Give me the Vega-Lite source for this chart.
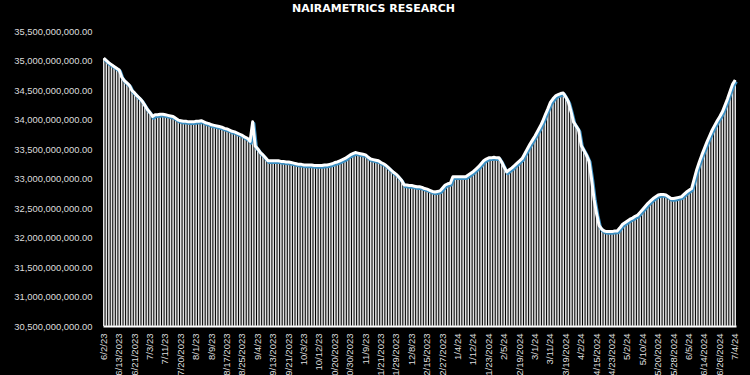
{
"$schema": "https://vega.github.io/schema/vega-lite/v6.json",
"width": 633,
"height": 295,
"autosize": {"type": "none"},
"padding": {"left": 103, "top": 31, "right": 14, "bottom": 49},
"background": "#000000",
"title": {"text": "NAIRAMETRICS RESEARCH", "color": "#ffffff", "font": "DejaVu Sans", "fontSize": 11, "fontWeight": "bold", "anchor": "middle", "offset": 12, "dx": -46},
"config": {"view": {"stroke": null}},
"data": {"values": [
{"d":"6/2/23","v":35040000000},{"d":"6/5/23","v":35000000000},{"d":"6/6/23","v":34960000000},{"d":"6/7/23","v":34930000000},{"d":"6/8/23","v":34900000000},{"d":"6/9/23","v":34870000000},
{"d":"6/13/2023","v":34840000000},{"d":"6/14/23","v":34720000000},{"d":"6/15/23","v":34660000000},{"d":"6/16/23","v":34620000000},{"d":"6/19/23","v":34580000000},{"d":"6/20/23","v":34490000000},
{"d":"6/21/2023","v":34450000000},{"d":"6/22/23","v":34400000000},{"d":"6/23/23","v":34360000000},{"d":"6/26/23","v":34310000000},{"d":"6/27/23","v":34240000000},{"d":"6/30/23","v":34170000000},
{"d":"7/3/23","v":34120000000},{"d":"7/4/23","v":34050000000},{"d":"7/5/23","v":34080000000},{"d":"7/6/23","v":34080000000},{"d":"7/7/23","v":34090000000},{"d":"7/10/23","v":34090000000},
{"d":"7/11/23","v":34080000000},{"d":"7/12/23","v":34070000000},{"d":"7/13/23","v":34060000000},{"d":"7/17/23","v":34050000000},{"d":"7/18/23","v":34020000000},{"d":"7/19/23","v":33990000000},
{"d":"7/20/2023","v":33980000000},{"d":"7/24/23","v":33970000000},{"d":"7/25/23","v":33970000000},{"d":"7/26/23","v":33960000000},{"d":"7/27/23","v":33960000000},{"d":"7/31/23","v":33960000000},
{"d":"8/1/23","v":33970000000},{"d":"8/2/23","v":33970000000},{"d":"8/3/23","v":33980000000},{"d":"8/4/23","v":33960000000},{"d":"8/7/23","v":33940000000},{"d":"8/8/23","v":33930000000},
{"d":"8/9/23","v":33910000000},{"d":"8/10/23","v":33900000000},{"d":"8/11/23","v":33890000000},{"d":"8/14/23","v":33880000000},{"d":"8/15/23","v":33870000000},{"d":"8/16/23","v":33850000000},
{"d":"8/17/2023","v":33840000000},{"d":"8/18/23","v":33820000000},{"d":"8/21/23","v":33800000000},{"d":"8/22/23","v":33790000000},{"d":"8/23/23","v":33770000000},{"d":"8/24/23","v":33750000000},
{"d":"8/25/2023","v":33730000000},{"d":"8/28/23","v":33700000000},{"d":"8/29/23","v":33680000000},{"d":"8/30/23","v":33630000000},{"d":"8/31/23","v":33960000000},{"d":"9/1/23","v":33550000000},
{"d":"9/4/23","v":33500000000},{"d":"9/5/23","v":33440000000},{"d":"9/6/23","v":33400000000},{"d":"9/7/23","v":33350000000},{"d":"9/11/23","v":33300000000},{"d":"9/12/23","v":33300000000},
{"d":"9/13/2023","v":33300000000},{"d":"9/14/23","v":33300000000},{"d":"9/15/23","v":33300000000},{"d":"9/18/23","v":33290000000},{"d":"9/19/23","v":33290000000},{"d":"9/20/23","v":33280000000},
{"d":"9/21/2023","v":33280000000},{"d":"9/22/23","v":33270000000},{"d":"9/25/23","v":33260000000},{"d":"9/26/23","v":33250000000},{"d":"9/28/23","v":33240000000},{"d":"9/29/23","v":33240000000},
{"d":"10/3/23","v":33230000000},{"d":"10/4/23","v":33230000000},{"d":"10/5/23","v":33230000000},{"d":"10/6/23","v":33230000000},{"d":"10/10/23","v":33220000000},{"d":"10/11/23","v":33220000000},
{"d":"10/12/23","v":33220000000},{"d":"10/13/23","v":33220000000},{"d":"10/16/23","v":33230000000},{"d":"10/17/23","v":33230000000},{"d":"10/18/23","v":33240000000},{"d":"10/19/23","v":33250000000},
{"d":"10/20/2023","v":33270000000},{"d":"10/23/23","v":33280000000},{"d":"10/24/23","v":33300000000},{"d":"10/25/23","v":33320000000},{"d":"10/26/23","v":33340000000},{"d":"10/27/23","v":33370000000},
{"d":"10/30/2023","v":33400000000},{"d":"10/31/23","v":33420000000},{"d":"11/1/23","v":33440000000},{"d":"11/2/23","v":33430000000},{"d":"11/6/23","v":33420000000},{"d":"11/7/23","v":33410000000},
{"d":"11/9/23","v":33400000000},{"d":"11/10/23","v":33360000000},{"d":"11/13/23","v":33330000000},{"d":"11/15/23","v":33320000000},{"d":"11/16/23","v":33310000000},{"d":"11/20/23","v":33300000000},
{"d":"11/21/2023","v":33270000000},{"d":"11/22/23","v":33250000000},{"d":"11/23/23","v":33220000000},{"d":"11/24/23","v":33180000000},{"d":"11/27/23","v":33140000000},{"d":"11/28/23","v":33100000000},
{"d":"11/29/2023","v":33070000000},{"d":"11/30/23","v":33020000000},{"d":"12/1/23","v":32970000000},{"d":"12/4/23","v":32890000000},{"d":"12/6/23","v":32890000000},{"d":"12/7/23","v":32880000000},
{"d":"12/8/23","v":32880000000},{"d":"12/9/23","v":32870000000},{"d":"12/11/23","v":32860000000},{"d":"12/12/23","v":32860000000},{"d":"12/13/23","v":32850000000},{"d":"12/14/23","v":32830000000},
{"d":"12/15/2023","v":32820000000},{"d":"12/18/23","v":32800000000},{"d":"12/19/23","v":32780000000},{"d":"12/20/23","v":32770000000},{"d":"12/21/23","v":32780000000},{"d":"12/22/23","v":32790000000},
{"d":"12/27/2023","v":32840000000},{"d":"12/28/23","v":32890000000},{"d":"12/29/23","v":32910000000},{"d":"12/30/23","v":32920000000},{"d":"1/2/24","v":33030000000},{"d":"1/3/24","v":33030000000},
{"d":"1/4/24","v":33030000000},{"d":"1/5/24","v":33030000000},{"d":"1/8/24","v":33030000000},{"d":"1/9/24","v":33030000000},{"d":"1/10/24","v":33060000000},{"d":"1/11/24","v":33090000000},
{"d":"1/12/24","v":33120000000},{"d":"1/15/24","v":33160000000},{"d":"1/16/24","v":33200000000},{"d":"1/17/24","v":33250000000},{"d":"1/18/24","v":33300000000},{"d":"1/22/24","v":33330000000},
{"d":"1/23/2024","v":33350000000},{"d":"1/24/24","v":33350000000},{"d":"1/26/24","v":33360000000},{"d":"1/30/24","v":33350000000},{"d":"2/1/24","v":33350000000},{"d":"2/2/24","v":33280000000},
{"d":"2/5/24","v":33190000000},{"d":"2/7/24","v":33110000000},{"d":"2/9/24","v":33150000000},{"d":"2/12/24","v":33180000000},{"d":"2/14/24","v":33220000000},{"d":"2/16/24","v":33260000000},
{"d":"2/19/2024","v":33300000000},{"d":"2/21/24","v":33340000000},{"d":"2/23/24","v":33420000000},{"d":"2/26/24","v":33500000000},{"d":"2/27/24","v":33580000000},{"d":"2/28/24","v":33650000000},
{"d":"3/1/24","v":33720000000},{"d":"3/4/24","v":33800000000},{"d":"3/5/24","v":33880000000},{"d":"3/6/24","v":33970000000},{"d":"3/7/24","v":34080000000},{"d":"3/8/24","v":34180000000},
{"d":"3/11/24","v":34290000000},{"d":"3/12/24","v":34350000000},{"d":"3/13/24","v":34400000000},{"d":"3/14/24","v":34420000000},{"d":"3/15/24","v":34440000000},{"d":"3/18/24","v":34450000000},
{"d":"3/19/2024","v":34380000000},{"d":"3/20/24","v":34300000000},{"d":"3/21/24","v":34140000000},{"d":"3/22/24","v":33960000000},{"d":"3/26/24","v":33890000000},{"d":"3/28/24","v":33820000000},
{"d":"4/2/24","v":33560000000},{"d":"4/3/24","v":33480000000},{"d":"4/4/24","v":33400000000},{"d":"4/5/24","v":33300000000},{"d":"4/8/24","v":33000000000},{"d":"4/12/24","v":32650000000},
{"d":"4/15/2024","v":32400000000},{"d":"4/16/24","v":32200000000},{"d":"4/17/24","v":32140000000},{"d":"4/18/24","v":32110000000},{"d":"4/19/24","v":32100000000},{"d":"4/22/24","v":32100000000},
{"d":"4/23/2024","v":32100000000},{"d":"4/24/24","v":32110000000},{"d":"4/25/24","v":32110000000},{"d":"4/26/24","v":32160000000},{"d":"4/29/24","v":32220000000},{"d":"4/30/24","v":32250000000},
{"d":"5/2/24","v":32280000000},{"d":"5/3/24","v":32310000000},{"d":"5/6/24","v":32330000000},{"d":"5/7/24","v":32360000000},{"d":"5/8/24","v":32380000000},{"d":"5/9/24","v":32430000000},
{"d":"5/10/24","v":32480000000},{"d":"5/13/24","v":32530000000},{"d":"5/14/24","v":32580000000},{"d":"5/15/24","v":32620000000},{"d":"5/16/24","v":32660000000},{"d":"5/17/24","v":32690000000},
{"d":"5/20/2024","v":32720000000},{"d":"5/21/24","v":32730000000},{"d":"5/22/24","v":32730000000},{"d":"5/23/24","v":32720000000},{"d":"5/24/24","v":32690000000},{"d":"5/27/24","v":32660000000},
{"d":"5/28/2024","v":32660000000},{"d":"5/29/24","v":32670000000},{"d":"5/30/24","v":32680000000},{"d":"5/31/24","v":32690000000},{"d":"6/3/24","v":32730000000},{"d":"6/4/24","v":32770000000},
{"d":"6/5/24","v":32800000000},{"d":"6/6/24","v":32830000000},{"d":"6/7/24","v":32990000000},{"d":"6/10/24","v":33150000000},{"d":"6/11/24","v":33280000000},{"d":"6/13/24","v":33400000000},
{"d":"6/14/2024","v":33510000000},{"d":"6/19/24","v":33620000000},{"d":"6/20/24","v":33720000000},{"d":"6/21/24","v":33820000000},{"d":"6/24/24","v":33900000000},{"d":"6/25/24","v":33980000000},
{"d":"6/26/2024","v":34050000000},{"d":"6/27/24","v":34130000000},{"d":"6/28/24","v":34240000000},{"d":"7/1/24","v":34350000000},{"d":"7/2/24","v":34480000000},{"d":"7/3/24","v":34600000000},
{"d":"7/4/24","v":34670000000}
]},
"encoding": {
  "x": {"field": "d", "type": "ordinal", "sort": null,
    "scale": {"paddingInner": 0.4, "paddingOuter": 0},
    "axis": {"title": null, "values": ["6/2/23","6/13/2023","6/21/2023","7/3/23","7/11/23","7/20/2023","8/1/23","8/9/23","8/17/2023","8/25/2023","9/4/23","9/13/2023","9/21/2023","10/3/23","10/12/23","10/20/2023","10/30/2023","11/9/23","11/21/2023","11/29/2023","12/8/23","12/15/2023","12/27/2023","1/4/24","1/12/24","1/23/2024","2/5/24","2/19/2024","3/1/24","3/11/24","3/19/2024","4/2/24","4/15/2024","4/23/2024","5/2/24","5/10/24","5/20/2024","5/28/2024","6/5/24","6/14/2024","6/26/2024","7/4/24"],
      "labelAngle": -90, "labelColor": "#dddddd", "labelFont": "Liberation Sans", "labelFontSize": 9.5, "labelPadding": 7, "ticks": false, "domainColor": "#ffffff", "domainWidth": 2, "grid": false}},
  "y": {"field": "v", "type": "quantitative",
    "scale": {"domain": [30500000000, 35500000000], "zero": false, "nice": false},
    "axis": {"title": null, "values": [30500000000,31000000000,31500000000,32000000000,32500000000,33000000000,33500000000,34000000000,34500000000,35000000000,35500000000], "format": ",.2f",
      "labelColor": "#dddddd", "labelFont": "Liberation Sans", "labelFontSize": 9.4, "labelPadding": 11, "domain": false, "ticks": false, "grid": false}}
},
"layer": [
  {"mark": {"type": "bar", "color": "#e4e4e4"}, "encoding": {"y2": {"datum": 30500000000}}},
  {"mark": {"type": "line", "color": "#3b8fc2", "strokeWidth": 3.5, "xOffset": 1, "yOffset": 1.5, "strokeJoin": "round"}},
  {"mark": {"type": "line", "color": "#ffffff", "strokeWidth": 3, "strokeJoin": "round"}}
]
}
